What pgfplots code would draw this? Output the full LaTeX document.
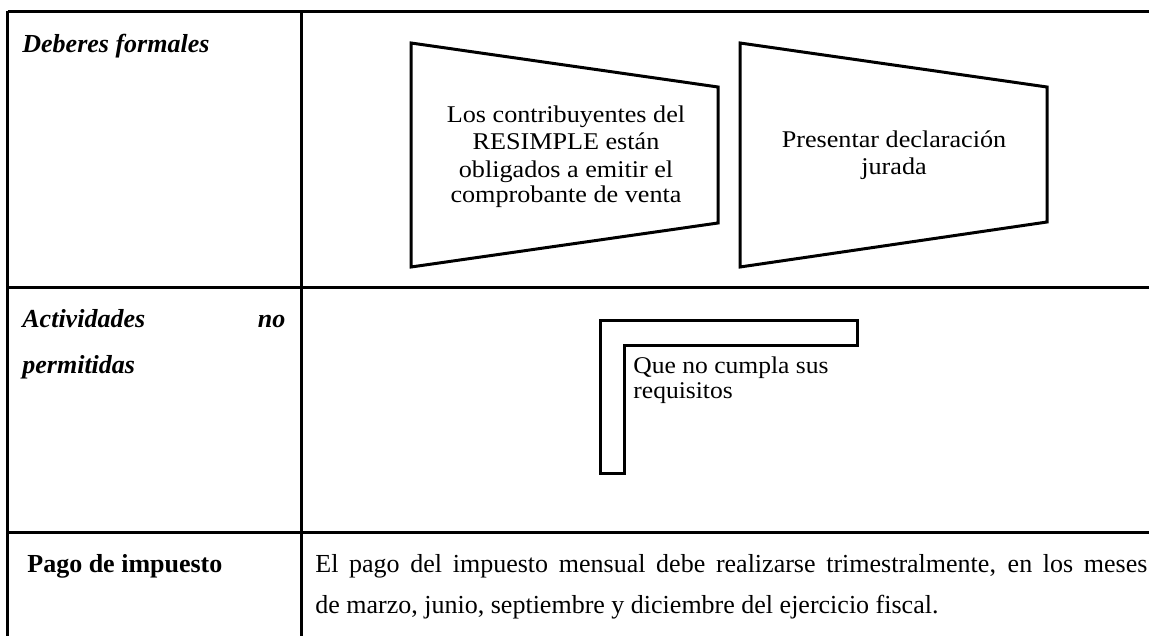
\documentclass[border=0pt]{standalone}
\usepackage{pgfplots}
\pgfplotsset{compat=1.18}
\usepackage{fontspec}
\setmainfont{Liberation Serif}
\newcommand{\wide}[2]{\scalebox{#1}[1]{#2}}
\begin{document}
\begin{tikzpicture}
\begin{axis}[
  width=574.5pt, height=318pt, scale only axis,
  xmin=0, xmax=1149, ymin=0, ymax=636, y dir=reverse,
  hide axis, clip=false,
]
% table rules
\addplot[black, line width=1.5pt] coordinates {(7.5,12) (1149,12)};
\addplot[black, line width=1.5pt] coordinates {(7.5,287) (1149,287)};
\addplot[black, line width=1.5pt] coordinates {(7.5,532) (1149,532)};
\addplot[black, line width=1.5pt] coordinates {(7.5,11.25) (7.5,636)};
\addplot[black, line width=1.5pt] coordinates {(301,11.25) (301,636)};
% trapezoids
\addplot[black, line width=1.5pt] coordinates {(411,43) (718,87) (718,223) (411,267)} -- cycle;
\addplot[black, line width=1.5pt] coordinates {(740,43) (1047,87) (1047,222) (740,267)} -- cycle;
% L shape
\addplot[black, line width=1.5pt] coordinates {(600,320) (857,320) (857,345) (624,345) (624,473) (600,473)} -- cycle;
% texts
\node[anchor=base west, inner sep=0pt, font=\fontsize{13}{15}\selectfont\bfseries\itshape] at (axis cs:22,53) {Deberes formales};
\node[anchor=base west, inner sep=0pt, font=\fontsize{13}{15}\selectfont\bfseries\itshape] at (axis cs:22,327) {\makebox[131.5pt][s]{Actividades no}};
\node[anchor=base west, inner sep=0pt, font=\fontsize{13}{15}\selectfont\bfseries\itshape] at (axis cs:22,373) {permitidas};
\node[anchor=base west, inner sep=0pt, font=\fontsize{13}{15}\selectfont\bfseries] at (axis cs:27,572) {Pago de impuesto};
\node[anchor=base west, inner sep=0pt, font=\fontsize{13}{15}\selectfont] at (axis cs:315,572) {\makebox[416pt][s]{El pago del impuesto mensual debe realizarse trimestralmente, en los meses}};
\node[anchor=base west, inner sep=0pt, font=\fontsize{13}{15}\selectfont] at (axis cs:315,613) {de marzo, junio, septiembre y diciembre del ejercicio fiscal.};
% trapezoid 1 text
\node[anchor=base, inner sep=0pt, font=\fontsize{12}{14}\selectfont] at (axis cs:566,123) {\wide{1.09}{Los contribuyentes del}};
\node[anchor=base, inner sep=0pt, font=\fontsize{12}{14}\selectfont] at (axis cs:566,150) {\wide{1.09}{RESIMPLE están}};
\node[anchor=base, inner sep=0pt, font=\fontsize{12}{14}\selectfont] at (axis cs:566,177) {\wide{1.09}{obligados a emitir el}};
\node[anchor=base, inner sep=0pt, font=\fontsize{12}{14}\selectfont] at (axis cs:566,203) {\wide{1.09}{comprobante de venta}};
% trapezoid 2 text
\node[anchor=base, inner sep=0pt, font=\fontsize{12}{14}\selectfont] at (axis cs:894,148) {\wide{1.09}{Presentar declaración}};
\node[anchor=base, inner sep=0pt, font=\fontsize{12}{14}\selectfont] at (axis cs:894,175) {\wide{1.09}{jurada}};
% L shape text
\node[anchor=base west, inner sep=0pt, font=\fontsize{12}{14}\selectfont] at (axis cs:633,373) {\wide{1.065}{Que no cumpla sus}};
\node[anchor=base west, inner sep=0pt, font=\fontsize{12}{14}\selectfont] at (axis cs:633,398) {\wide{1.065}{requisitos}};
\end{axis}
\pgfresetboundingbox
\path (current axis.south west) rectangle (current axis.north east);
\end{tikzpicture}
\end{document}
